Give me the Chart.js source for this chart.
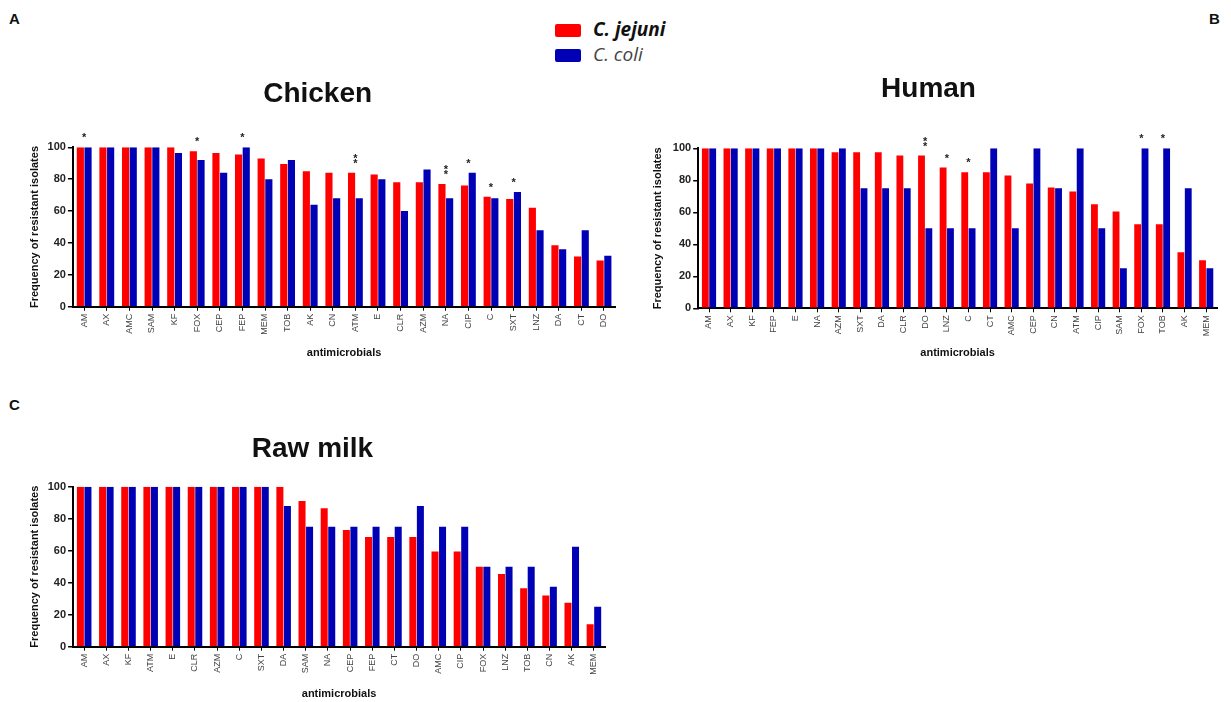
<!DOCTYPE html>
<html>
<head>
<meta charset="utf-8">
<script src="https://cdn.jsdelivr.net/npm/chart.js@4.4.0/dist/chart.umd.min.js"></script>
<style>
  body { margin: 0; background: #fff; width: 1231px; height: 702px; position: relative; overflow: hidden;
         font-family: "Liberation Sans", Arial, sans-serif; }
  .box { position: absolute; }
  .letter { position: absolute; font-weight: bold; font-size: 15px; color: #111; }
  .legend { position: absolute; left: 555px; top: 17px; font-family: "Open Sans", "Liberation Sans", sans-serif; }
  .legend div { height: 25px; line-height: 25px; font-size: 19px; font-style: italic; white-space: nowrap; }
  .legend span.sw { display: inline-block; width: 26px; height: 13px; vertical-align: middle; margin-right: 12px; border-radius: 2px; }
</style>
</head>
<body>
<div class="letter" style="left:9px;top:10px">A</div>
<div class="letter" style="left:1209px;top:10px">B</div>
<div class="letter" style="left:9px;top:396px">C</div>

<div class="legend">
  <div style="font-weight:bold;color:#111"><span class="sw" style="background:#ff0000"></span>C. jejuni</div>
  <div style="color:#444"><span class="sw" style="background:#0000b4"></span>C. coli</div>
</div>

<div class="box" style="left:20px;top:60px;width:600px;height:310px"><canvas id="chicken"></canvas></div>
<div class="box" style="left:640px;top:60px;width:590px;height:310px"><canvas id="human"></canvas></div>
<div class="box" style="left:20px;top:400px;width:600px;height:302px"><canvas id="milk"></canvas></div>

<script>
// ---- data ----
const chickenLabels = ["AM","AX","AMC","SAM","KF","FOX","CEP","FEP","MEM","TOB","AK","CN","ATM","E","CLR","AZM","NA","CIP","C","SXT","LNZ","DA","CT","DO"];
const chickenJejuni = [100,100,100,100,100,97.5,96.5,95.5,93,89.5,85,84,84,83,78,78,77,76,69,67.5,62,38.5,31.5,29];
const chickenColi   = [100,100,100,100,96.5,92,84,100,80,92,64,68,68,80,60,86,68,84,68,72,48,36,48,32];
const chickenStars  = ["*","","","","","*","","*","","","","","**","","","","**","*","*","*","","","",""];

const humanLabels = ["AM","AX","KF","FEP","E","NA","AZM","SXT","DA","CLR","DO","LNZ","C","CT","AMC","CEP","CN","ATM","CIP","SAM","FOX","TOB","AK","MEM"];
const humanJejuni = [100,100,100,100,100,100,97.5,97.5,97.5,95.5,95.5,88,85,85,83,78,75.5,73,65,60.5,52.5,52.5,35,30];
const humanColi   = [100,100,100,100,100,100,100,75,75,75,50,50,50,100,50,100,75,100,50,25,100,100,75,25];
const humanStars  = ["","","","","","","","","","","**","*","*","","","","","","","","*","*","",""];

const milkLabels = ["AM","AX","KF","ATM","E","CLR","AZM","C","SXT","DA","SAM","NA","CEP","FEP","CT","DO","AMC","CIP","FOX","LNZ","TOB","CN","AK","MEM"];
const milkJejuni = [100,100,100,100,100,100,100,100,100,100,91,86.5,73,68.5,68.5,68.5,59.5,59.5,50,45.5,36.5,32,27.5,14];
const milkColi   = [100,100,100,100,100,100,100,100,100,88,75,75,75,75,75,88,75,75,50,50,50,37.5,62.5,25];
const milkStars  = [];

const yTicks = [0, 20, 40, 60, 80, 100];

const RED = "#ff0000";
const BLUE = "#0000b4";

// draws significance asterisks above each pair
const starPlugin = {
  id: "stars",
  afterDatasetsDraw(chart, args, opts) {
    const marks = opts.marks || [];
    const ctx = chart.ctx;
    const xs = chart.scales.x, ys = chart.scales.y;
    ctx.save();
    ctx.fillStyle = "#222";
    ctx.font = "bold 11px 'Liberation Sans'";
    ctx.textAlign = "center";
    ctx.textBaseline = "middle";
    marks.forEach((m, i) => {
      if (!m) return;
      const top = Math.max(chart.data.datasets[0].data[i], chart.data.datasets[1].data[i]);
      const x = xs.getPixelForValue(i);
      const y = ys.getPixelForValue(top) - 9;
      if (m === "**") {
        ctx.fillText("*", x, y - 5);
        ctx.fillText("*", x, y);
      } else {
        ctx.fillText("*", x, y);
      }
    });
    ctx.restore();
  }
};

function buildChart(id, title, labels, jejuni, coli, marks, g) {
  new Chart(document.getElementById(id), {
    type: "bar",
    data: {
      labels: labels,
      datasets: [
        { label: "C. jejuni", data: jejuni, backgroundColor: RED, categoryPercentage: 0.68, barPercentage: 0.93 },
        { label: "C. coli", data: coli, backgroundColor: BLUE, categoryPercentage: 0.68, barPercentage: 0.93 }
      ]
    },
    plugins: [starPlugin],
    options: {
      responsive: true,
      maintainAspectRatio: false,
      animation: false,
      layout: { padding: { left: 0, right: g.padRight, top: 0, bottom: 0 } },
      plugins: {
        legend: { display: false },
        tooltip: { enabled: false },
        title: {
          display: true,
          text: title,
          color: "#111",
          font: { size: 28, weight: "bold", family: "'Liberation Sans'" },
          padding: { top: g.titleTop, bottom: g.titleBottom }
        },
        stars: { marks: marks }
      },
      scales: {
        x: {
          offset: true,
          grid: { display: true, drawOnChartArea: false, drawTicks: true, tickLength: 4, offset: false, color: "#000", lineWidth: 1 },
          border: { display: true, color: "#000", width: 2 },
          ticks: {
            color: "#444", minRotation: 90, maxRotation: 90, autoSkip: false, padding: 3,
            font: { size: 9, family: "'Liberation Sans'" }
          },
          title: {
            display: true, text: "antimicrobials", color: "#111",
            font: { size: 11, weight: "bold", family: "'Liberation Sans'" },
            padding: { top: 0, bottom: g.xTitlePad }
          },
          afterFit(scale) { scale.height = g.xHeight; }
        },
        y: {
          min: 0, max: 100,
          afterBuildTicks(scale) { scale.ticks = yTicks.map(v => ({ value: v })); },
          grid: { display: true, drawOnChartArea: false, drawTicks: true, tickLength: 5, color: "#000", lineWidth: 1.5 },
          border: { display: true, color: "#000", width: 2 },
          ticks: { color: "#222", padding: 2, font: { size: 11, weight: "bold", family: "'Liberation Sans'" } },
          title: {
            display: true, text: "Frequency of resistant isolates", color: "#111",
            font: { size: 11, weight: "bold", family: "'Liberation Sans'" },
            padding: { top: g.yTitlePad, bottom: 0 }
          },
          afterFit(scale) { scale.width = g.yWidth; }
        }
      }
    }
  });
}

buildChart("chicken", "Chicken", chickenLabels, chickenJejuni, chickenColi, chickenStars,
  { padRight: 4.7, titleTop: 17, titleBottom: 36.7, xHeight: 63.3, xTitlePad: 10, yWidth: 52.9, yTitlePad: 8.4 });
buildChart("human", "Human", humanLabels, humanJejuni, humanColi, humanStars,
  { padRight: 13, titleTop: 12.2, titleBottom: 42.5, xHeight: 61.7, xTitlePad: 10, yWidth: 58.2, yTitlePad: 11.4 });
buildChart("milk", "Raw milk", milkLabels, milkJejuni, milkColi, milkStars,
  { padRight: 15, titleTop: 32.2, titleBottom: 20.9, xHeight: 55.3, xTitlePad: 1, yWidth: 53.1, yTitlePad: 8.4 });
</script>
</body>
</html>
